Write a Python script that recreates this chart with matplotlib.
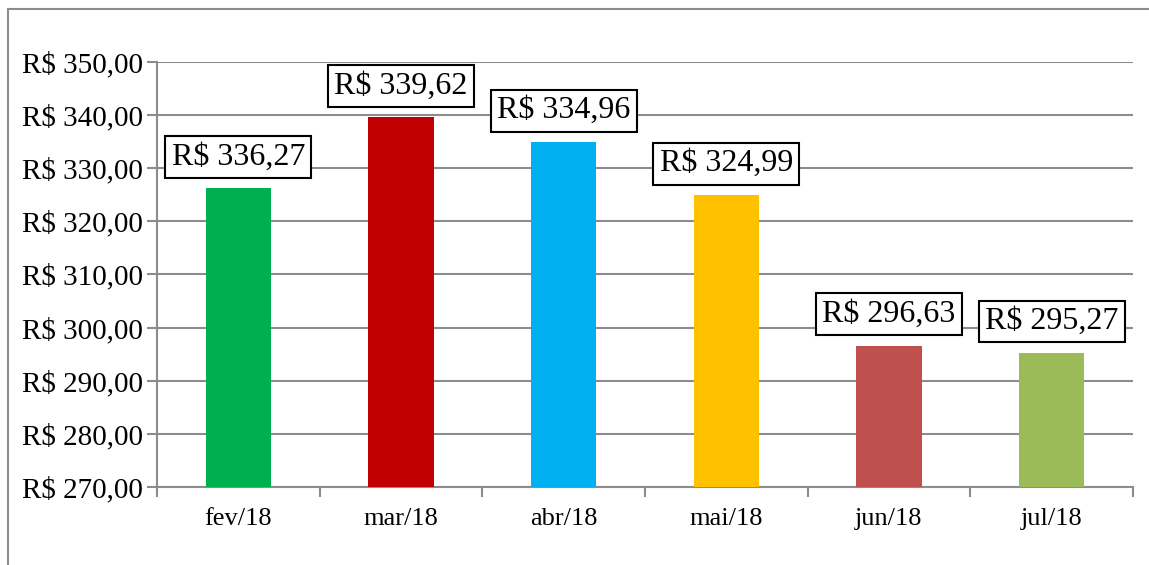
import matplotlib.pyplot as plt
from matplotlib.patches import Rectangle

# Data
months = ["fev/18", "mar/18", "abr/18", "mai/18", "jun/18", "jul/18"]
values = [326.27, 339.62, 334.96, 324.99, 296.63, 295.27]
labels = ["R$ 336,27", "R$ 339,62", "R$ 334,96", "R$ 324,99", "R$ 296,63", "R$ 295,27"]
colors = ["#00B050", "#C00000", "#00B0F0", "#FFC000", "#C0504D", "#9BBB59"]
yticks = [270, 280, 290, 300, 310, 320, 330, 340, 350]

plt.rcParams["font.family"] = ["Liberation Serif", "DejaVu Serif"]

fig = plt.figure(figsize=(11.49, 5.65), dpi=100)

# outer chart border (only top and left visible)
fig.patches.append(Rectangle((8 / 1149, -0.2), 1.5, 1.2 - 9 / 565,
                             transform=fig.transFigure, fill=False,
                             edgecolor="#8c8c8c", linewidth=1.5))

ax = fig.add_axes([157 / 1149, 78 / 565, 976 / 1149, 425 / 565])

x = list(range(len(months)))
ax.bar(x, values, width=0.4, color=colors, zorder=3)

ax.set_xlim(-0.5, len(months) - 0.5)
ax.set_ylim(270, 350)
ax.set_yticks(yticks)
ax.set_yticklabels(["R$ %d,00" % v for v in yticks], fontsize=21)
ax.yaxis.grid(True, color="#8c8c8c", linewidth=1.5, zorder=0)

# month labels centered, tick marks between categories
ax.set_xticks(x)
ax.set_xticklabels(months, fontsize=19)
ax.tick_params(axis="x", length=0, pad=15)
ax.set_xticks([i - 0.5 for i in range(len(months) + 1)], minor=True)
ax.tick_params(axis="x", which="minor", length=7, width=1.5, color="#8c8c8c")
ax.tick_params(axis="y", length=7, width=1.5, color="#8c8c8c", pad=3)

for s in ["top", "right"]:
    ax.spines[s].set_visible(False)
for s in ["left", "bottom"]:
    ax.spines[s].set_color("#8c8c8c")
    ax.spines[s].set_linewidth(1.5)

for i in x:
    ax.annotate(labels[i], (i, values[i]), xytext=(0, 12),
                textcoords="offset points", ha="center", va="bottom",
                fontsize=23, zorder=5,
                bbox=dict(boxstyle="square,pad=0.2", fc="white",
                          ec="black", lw=1.5))

plt.savefig("out.png", dpi=100)
